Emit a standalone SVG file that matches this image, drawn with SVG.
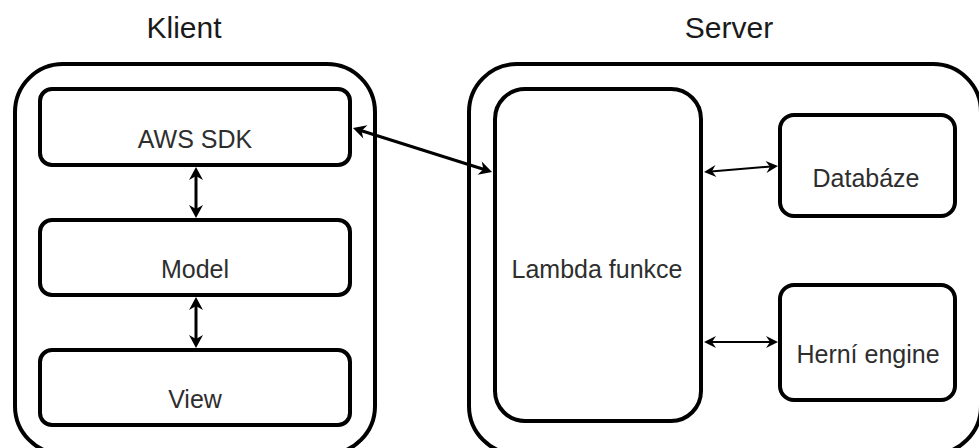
<svg xmlns="http://www.w3.org/2000/svg" width="979" height="448" viewBox="0 0 979 448">
  <style>
    .box { fill: #ffffff; stroke: #000000; stroke-width: 4; }
    .lbl { font-family: "Liberation Sans", Arial, sans-serif; font-size: 25px; fill: #2e2e2e; text-anchor: middle; }
    .title { font-family: "Liberation Sans", Arial, sans-serif; font-size: 30px; fill: #1a1a1a; text-anchor: middle; }
    .thick { stroke: #000000; stroke-width: 3; fill: none; marker-start: url(#headL); marker-end: url(#headL); }
    .thin { stroke: #000000; stroke-width: 2; fill: none; marker-start: url(#headS); marker-end: url(#headS); }
  </style>
  <defs>
    <marker id="headL" markerUnits="userSpaceOnUse" viewBox="-10 -8 16 16" refX="0" refY="0" markerWidth="16" markerHeight="16" orient="auto-start-reverse">
      <path d="M4,0 L-9,-7 L-5,0 L-9,7 Z" fill="#000000"/>
    </marker>
    <marker id="headS" markerUnits="userSpaceOnUse" viewBox="-10 -8 16 16" refX="0" refY="0" markerWidth="16" markerHeight="16" orient="auto-start-reverse">
      <path d="M4,0 L-8,-6 L-4,0 L-8,6 Z" fill="#000000"/>
    </marker>
  </defs>

  <rect width="979" height="448" fill="#ffffff"/>

  <!-- Client side -->
  <g id="klient">
    <rect class="box" x="15" y="64" width="360" height="390" rx="48" ry="48"/>
    <text class="title" x="184" y="38">Klient</text>
  </g>
  <g id="aws-sdk">
    <rect class="box" x="40" y="89" width="310" height="76" rx="12" ry="12"/>
    <text class="lbl" x="195" y="148">AWS SDK</text>
  </g>
  <g id="model">
    <rect class="box" x="40" y="220" width="310" height="75" rx="12" ry="12"/>
    <text class="lbl" x="195" y="278">Model</text>
  </g>
  <g id="view">
    <rect class="box" x="40" y="350" width="310" height="75" rx="12" ry="12"/>
    <text class="lbl" x="195" y="408">View</text>
  </g>

  <!-- Server side -->
  <g id="server">
    <rect class="box" x="469" y="64" width="512" height="390" rx="48" ry="48"/>
    <text class="title" x="729" y="38">Server</text>
  </g>
  <g id="lambda">
    <rect class="box" x="495" y="89" width="206" height="332" rx="30" ry="30"/>
    <text class="lbl" x="597" y="278">Lambda funkce</text>
  </g>
  <g id="databaze">
    <rect class="box" x="780" y="115" width="175" height="101" rx="14" ry="14"/>
    <text class="lbl" x="866" y="187">Databáze</text>
  </g>
  <g id="herni-engine">
    <rect class="box" x="780" y="285" width="175" height="115" rx="14" ry="14"/>
    <text class="lbl" x="868" y="363">Herní engine</text>
  </g>

  <!-- Connectors -->
  <g id="connectors">
    <line class="thick" x1="196" y1="171" x2="196" y2="214"/>
    <line class="thick" x1="196" y1="301" x2="196" y2="344"/>
    <line class="thick" x1="356.8" y1="129.2" x2="488.2" y2="170.8"/>
    <line class="thin" x1="708" y1="171.7" x2="774" y2="166.3"/>
    <line class="thin" x1="708" y1="342" x2="774" y2="342"/>
  </g>
</svg>
